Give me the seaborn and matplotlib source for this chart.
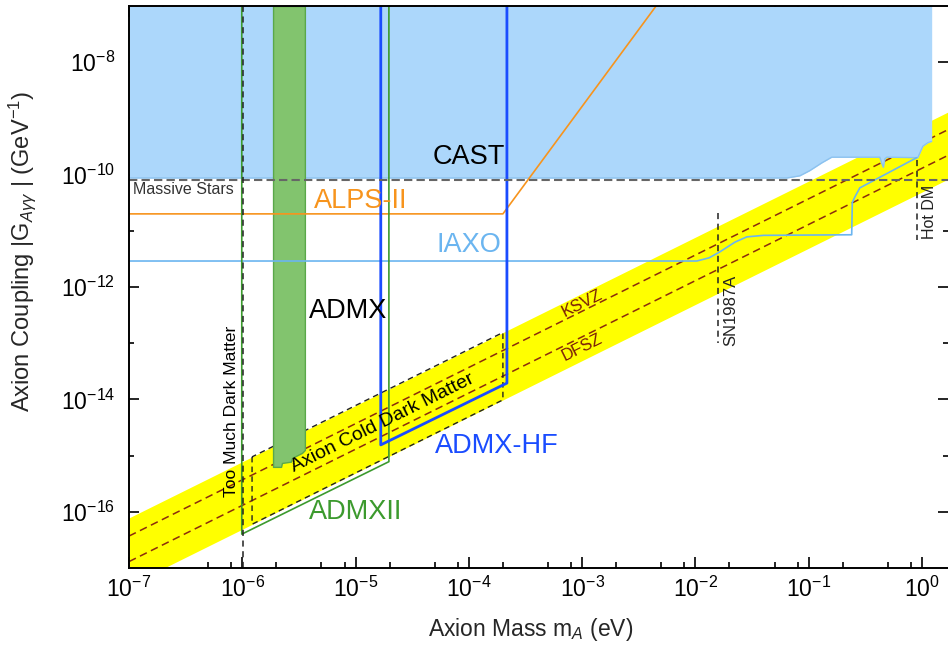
import numpy as np
import pandas as pd
import matplotlib
matplotlib.use("Agg")
import matplotlib.pyplot as plt
from matplotlib.ticker import LogLocator, FixedLocator, NullFormatter, LogFormatterMathtext
import seaborn as sns

# ---------------- data ----------------
x_range = [1e-7, 1.7]
y_range = [1e-17, 1e-7]

# QCD axion band and model lines (straight lines in log-log, endpoints)
band_m = [1e-7, 1.7]
band_hi_g = [7.8e-17, 1.3e-9]
band_lo_g = [4.9e-18, 8.3e-11]
ksvz_g = [3.7e-17, 6.3e-10]
dfsz_g = [1.3e-17, 2.2e-10]

# CAST excluded region (lower boundary)
cast_m = [1e-7, 0.0643, 0.0836, 0.102, 0.131, 0.160, 0.425, 0.443, 0.457,
          0.471, 0.49, 0.92, 1.02, 1.13, 1.22]
cast_g = [8.7e-11, 8.7e-11, 9.5e-11, 1.17e-10, 1.62e-10, 2.04e-10, 2.04e-10,
          1.58e-10, 1.35e-10, 1.9e-10, 2.04e-10, 2.0e-10, 3.2e-10, 3.7e-10, 3.9e-10]

# Massive stars bound
stars_g = 8.0e-11

# ALPS-II
alps_m = [1e-7, 2.0e-4, 4.5e-3]
alps_g = [2.0e-11, 2.0e-11, 1e-7]

# IAXO
iaxo_m = [1e-7, 0.0103, 0.0132, 0.0164, 0.0224, 0.0285, 0.040, 0.24, 0.243,
          0.256, 0.283, 0.90]
iaxo_g = [2.9e-12, 2.9e-12, 3.3e-12, 4.2e-12, 6.3e-12, 7.8e-12, 8.3e-12,
          8.5e-12, 3.2e-11, 4.0e-11, 5.8e-11, 2.0e-10]

# ADMX excluded band (lower boundary, extends to top)
admx_m = [1.87e-6, 2.2e-6, 2.24e-6, 2.69e-6, 2.75e-6, 3.37e-6, 3.57e-6]
admx_g = [6.3e-16, 6.3e-16, 7.4e-16, 7.8e-16, 9.1e-16, 1.12e-15, 1.26e-15]

# ADMX-HF and ADMX II outlines
admxhf_m = [1.67e-5, 1.67e-5, 2.17e-4, 2.17e-4]
admxhf_g = [1e-7, 1.55e-15, 1.95e-14, 1e-7]
admx2_m = [0.99e-6, 0.99e-6, 1.97e-5, 1.97e-5]
admx2_g = [1e-7, 4.0e-17, 7.8e-16, 1e-7]

# Axion cold dark matter region
cdm_m = [1.22e-6, 1.22e-6, 2.0e-4, 2.0e-4, 1.22e-6]
cdm_g = [9.5e-16, 6.0e-17, 9.8e-15, 1.55e-13, 9.5e-16]

# vertical astrophysical / cosmological bounds
toomuch_m, toomuch_g = [1.02e-6, 1.02e-6], [1e-17, 1e-7]
sn_m, sn_g = [0.016, 0.016], [2.1e-11, 1.0e-13]
hot_m, hot_g = [0.9, 0.9], [1.8e-10, 6.9e-12]

x_major = [1e-7, 1e-6, 1e-5, 1e-4, 1e-3, 1e-2, 1e-1, 1e0]
y_major = [1e-16, 1e-14, 1e-12, 1e-10, 1e-8]
y_minor = [1e-15, 1e-13, 1e-11, 1e-9]

# ---------------- style ----------------
sns.set_theme(style="ticks")
plt.rcParams['font.family'] = ['Liberation Sans', 'DejaVu Sans']
plt.rcParams['mathtext.fontset'] = 'custom'
plt.rcParams['mathtext.rm'] = 'Liberation Sans'
plt.rcParams['mathtext.it'] = 'Liberation Sans:italic'
plt.rcParams['mathtext.bf'] = 'Liberation Sans:bold'
plt.rcParams['mathtext.sf'] = 'Liberation Sans'

C_CAST = '#acd7fb'
C_CAST_EDGE = '#8cc2ef'
C_YELLOW = '#ffff00'
C_MODEL = '#8b2c0c'
C_ALPS = '#f7941d'
C_IAXO = '#6bb5f0'
C_ADMX = '#82c46e'
C_ADMX_EDGE = '#5aa84a'
C_HF = '#1a4cff'
C_ADMX2 = '#3c9a2e'
C_DASH = '#222222'

fig = plt.figure(figsize=(9.48, 6.46), dpi=100)
ax = fig.add_axes([129/948, 1-568/646, (948-129)/948, (568-6)/646])
ax.set_xscale('log')
ax.set_yscale('log')
ax.set_xlim(*x_range)
ax.set_ylim(*y_range)

def line(m, g, **kw):
    df = pd.DataFrame({"m": m, "g": g})
    sns.lineplot(data=df, x="m", y="g", ax=ax, estimator=None, sort=False, **kw)

# yellow band
ax.fill_between(band_m, band_lo_g, band_hi_g, color=C_YELLOW, lw=0, zorder=1)
line(band_m, ksvz_g, color=C_MODEL, lw=1.1, linestyle=(0, (5, 3)), zorder=2)
line(band_m, dfsz_g, color=C_MODEL, lw=1.1, linestyle=(0, (5, 3)), zorder=2)

# CAST
ax.fill_between(cast_m, cast_g, y_range[1], color=C_CAST, lw=0, zorder=3)
line(cast_m, cast_g, color=C_CAST_EDGE, lw=1.0, zorder=3)

# cold dark matter region
line(cdm_m, cdm_g, color=C_DASH, lw=1.0, linestyle=(0, (4, 3)), zorder=4)

# ADMX
ax.fill_between(admx_m, admx_g, y_range[1], color=C_ADMX, edgecolor=C_ADMX_EDGE,
                lw=1.0, zorder=5)

# IAXO, ALPS-II
line(iaxo_m, iaxo_g, color=C_IAXO, lw=1.2, zorder=5)
line(alps_m, alps_g, color=C_ALPS, lw=1.2, zorder=5)

# ADMX II and ADMX-HF outlines
line(admx2_m, admx2_g, color=C_ADMX2, lw=1.2, zorder=6)
line(admxhf_m, admxhf_g, color=C_HF, lw=2.0, zorder=6)

# bounds
line([x_range[0], x_range[1]], [stars_g, stars_g], color='#666666', lw=1.5,
     linestyle=(0, (4, 2)), zorder=7)
line(toomuch_m, toomuch_g, color=C_DASH, lw=1.1, linestyle=(0, (4, 3)), zorder=7)
line(sn_m, sn_g, color=C_DASH, lw=1.1, linestyle=(0, (4, 3)), zorder=7)
line(hot_m, hot_g, color=C_DASH, lw=1.1, linestyle=(0, (4, 3)), zorder=7)

# ---------------- labels ----------------
big = 19.5
ax.text(2.08e-4, 2.06e-10, "CAST", ha='right', va='center', fontsize=big, color='black', zorder=8)
ax.text(4.3e-6, 3.4e-11, "ALPS-II", ha='left', va='center', fontsize=big, color=C_ALPS, zorder=8)
ax.text(5.2e-5, 5.6e-12, "IAXO", ha='left', va='center', fontsize=big, color=C_IAXO, zorder=8)
ax.text(3.9e-6, 3.7e-13, "ADMX", ha='left', va='center', fontsize=big, color='black', zorder=8)
ax.text(5.0e-5, 1.48e-15, "ADMX-HF", ha='left', va='center', fontsize=big, color=C_HF, zorder=8)
ax.text(3.9e-6, 1.0e-16, "ADMXII", ha='left', va='center', fontsize=big, color=C_ADMX2, zorder=8)
ax.text(1.08e-7, 5.4e-11, "Massive Stars", ha='left', va='center', fontsize=11.5, color='#333333', zorder=8)
ax.text(8.1e-7, 6e-15, "Too Much Dark Matter", rotation=90, ha='center', va='center',
        fontsize=12.5, color='black', zorder=8)
ax.text(0.0205, 3.9e-13, "SN1987A", rotation=90, ha='center', va='center',
        fontsize=12, color='#222222', zorder=8)
ax.text(1.16, 2.16e-11, "Hot DM", rotation=90, ha='center', va='center',
        fontsize=11.5, color='#222222', zorder=8)
ang = 26.4
ax.text(1.0e-3, 5.2e-13, "KSVZ", rotation=ang, rotation_mode='anchor', ha='center', va='center',
        fontsize=12, color='#7a1c08', zorder=8)
ax.text(1.0e-3, 8.5e-14, "DFSZ", rotation=ang, rotation_mode='anchor', ha='center', va='center',
        fontsize=12, color='#7a1c08', zorder=8)
ax.text(1.75e-5, 3.8e-15, "Axion Cold Dark Matter", rotation=ang, rotation_mode='anchor',
        ha='center', va='center', fontsize=14, color='black', zorder=8)

# ---------------- axes ----------------
ax.xaxis.set_major_locator(FixedLocator(x_major))
ax.xaxis.set_major_formatter(LogFormatterMathtext())
ax.xaxis.set_minor_locator(LogLocator(base=10, subs=[2, 5, 8], numticks=20))
ax.xaxis.set_minor_formatter(NullFormatter())
ax.yaxis.set_major_locator(FixedLocator(y_major))
ax.yaxis.set_major_formatter(LogFormatterMathtext())
ax.yaxis.set_minor_locator(FixedLocator(y_minor))
ax.yaxis.set_minor_formatter(NullFormatter())

ax.tick_params(which='both', direction='in', top=True, right=True, colors='black', width=1.2)
ax.tick_params(axis='x', which='major', length=8, labelsize=16.5, pad=6)
ax.tick_params(axis='x', which='minor', length=4)
ax.tick_params(axis='y', which='major', length=7, labelsize=16.5, pad=10)
ax.tick_params(axis='y', which='minor', length=3.5)
for s in ['left', 'bottom', 'top']:
    ax.spines[s].set_color('black')
    ax.spines[s].set_linewidth(1.4)
    ax.spines[s].set_zorder(10)
ax.spines['right'].set_visible(False)

ax.set_xlabel(r"Axion Mass m$_{A}$ (eV)", fontsize=16.5)
ax.set_ylabel(r"Axion Coupling |G$_{A\gamma\gamma}$ | (GeV$^{-1}$)", fontsize=17)
ax.xaxis.set_label_coords(0.49, -0.085)
ax.yaxis.set_label_coords(-0.111, 0.564)
ax.grid(False)

fig.savefig("out.png", dpi=100)
